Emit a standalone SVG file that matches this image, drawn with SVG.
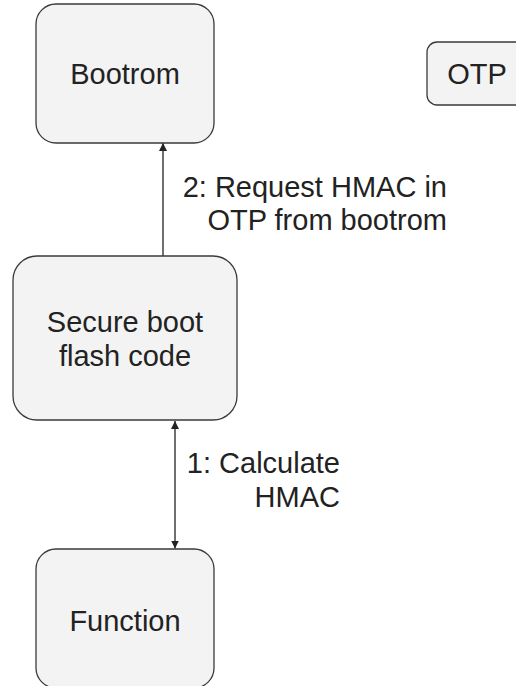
<svg xmlns="http://www.w3.org/2000/svg" width="516" height="686" viewBox="0 0 516 686">
  <defs>
    <style>
      .box { fill: #f3f3f3; stroke: #3a3a3a; stroke-width: 1.3; }
      .t { font-family: "Liberation Sans", Arial, sans-serif; font-size: 29px; fill: #222222; }
      .c { text-anchor: middle; }
      .r { text-anchor: end; }
      .edge { stroke: #222222; stroke-width: 1.3; fill: none; }
    </style>
    <marker id="ah" viewBox="0 0 10 10" refX="10" refY="5" markerUnits="userSpaceOnUse" markerWidth="8" markerHeight="10" orient="auto-start-reverse">
      <path d="M0,0 L10,5 L0,10 Z" fill="#222222"/>
    </marker>
  </defs>
  <rect width="516" height="686" fill="#ffffff"/>

  <g id="connectors">
    <line class="edge" x1="163" y1="256" x2="163" y2="143" marker-end="url(#ah)"/>
    <line class="edge" x1="175" y1="421" x2="175" y2="548.5" marker-start="url(#ah)" marker-end="url(#ah)"/>
    <text class="t r" x="447" y="197">2: Request HMAC in</text>
    <text class="t r" x="447" y="230">OTP from bootrom</text>
    <text class="t r" x="340" y="473">1: Calculate</text>
    <text class="t r" x="340" y="507">HMAC</text>
  </g>

  <g id="bootrom">
    <rect class="box" x="36" y="4" width="178" height="139" rx="20" ry="20"/>
    <text class="t c" x="125" y="84">Bootrom</text>
  </g>

  <g id="otp">
    <rect class="box" x="427" y="42" width="100" height="63" rx="10" ry="10"/>
    <text class="t c" x="477" y="84">OTP</text>
  </g>

  <g id="secure">
    <rect class="box" x="13" y="256" width="224" height="164" rx="24" ry="24"/>
    <text class="t c" x="125" y="332">Secure boot</text>
    <text class="t c" x="125" y="366">flash code</text>
  </g>

  <g id="function">
    <rect class="box" x="36" y="549" width="178" height="139" rx="20" ry="20"/>
    <text class="t c" x="125" y="631">Function</text>
  </g>
</svg>
